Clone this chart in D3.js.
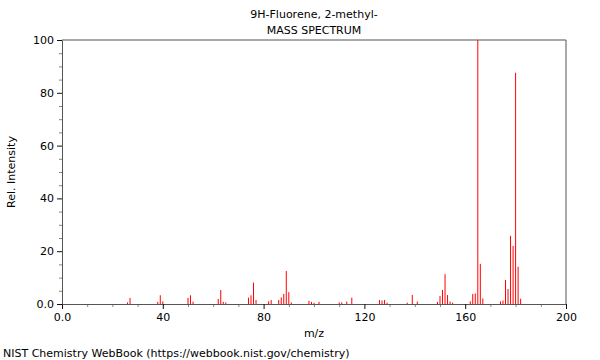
<!DOCTYPE html>
<html lang="en">
<head>
<meta charset="UTF-8">
<title>9H-Fluorene, 2-methyl- mass spectrum</title>
<script src="https://d3js.org/d3.v7.min.js"></script>
<style>
  body { margin: 0; background: #fff; }
  text { font-family: "DejaVu Sans", sans-serif; font-size: 11px; fill: #000; }
  .axis path { stroke: #555; }
  .minor line { stroke: #888; }
  .major line { stroke: #111; }
</style>
</head>
<body>
<div id="chart"></div>
<script>
// peaks: m/z and relative intensity (%)
var mz =        [26, 27, 38, 39, 40, 50, 51, 52, 62, 63, 64, 65, 74, 75, 76, 77, 82, 83, 86, 87, 88, 89, 90, 91,
                 98, 99, 100, 102, 110, 111, 113, 115, 126, 127, 128, 129, 137, 139, 141,
                 149, 150, 151, 152, 153, 154, 155, 162, 163, 164, 165, 166, 167,
                 174, 175, 176, 177, 178, 179, 180, 181, 182];
var intensity = [0.6, 2.3, 0.8, 3.3, 1.0, 2.3, 3.3, 0.9, 1.9, 5.3, 0.8, 0.6, 2.4, 3.3, 8.1, 1.5, 1.0, 1.5, 1.5, 2.5, 3.8, 12.5, 4.5, 0.6,
                 1.2, 0.8, 0.5, 0.8, 0.6, 0.6, 0.9, 2.4, 1.5, 1.3, 1.5, 0.5, 0.5, 3.4, 0.9,
                 0.8, 3.0, 5.3, 11.3, 3.4, 0.9, 0.5, 1.0, 3.8, 4.0, 100, 15.2, 2.1,
                 1.0, 1.3, 9.1, 5.7, 25.8, 22.0, 87.6, 14.1, 2.0];

var xMajor = [0, 40, 80, 120, 160, 200];
var xMinor = [10, 20, 30, 50, 60, 70, 90, 100, 110, 130, 140, 150, 170, 180, 190];
var yMajor = [0, 20, 40, 60, 80, 100];
var yMinor = [5, 10, 15, 25, 30, 35, 45, 50, 55, 65, 70, 75, 85, 90, 95];

var width = 600, height = 360;
var margin = {top: 40, right: 34, bottom: 56, left: 62};

var svg = d3.select("#chart").append("svg")
    .attr("width", width)
    .attr("height", height);

var x = d3.scaleLinear().domain([0, 200]).range([margin.left, width - margin.right]);
var y = d3.scaleLinear().domain([0, 100]).range([height - margin.bottom, margin.top]);

function fmt(d) { return d === 0 ? "0.0" : d; }

// minor ticks first, majors over them
svg.append("g")
    .attr("class", "axis minor")
    .attr("transform", "translate(0," + y(0) + ")")
    .call(d3.axisBottom(x).tickValues(xMinor).tickSize(3).tickFormat(""))
    .select(".domain").remove();

svg.append("g")
    .attr("class", "axis minor")
    .attr("transform", "translate(" + x(0) + ",0)")
    .call(d3.axisLeft(y).tickValues(yMinor).tickSize(3).tickFormat(""))
    .select(".domain").remove();

svg.append("g")
    .attr("class", "axis major")
    .attr("transform", "translate(0," + y(0) + ")")
    .call(d3.axisBottom(x).tickValues(xMajor).tickSize(5).tickSizeOuter(0).tickPadding(4).tickFormat(fmt))
    .call(function(g) { g.selectAll("text").attr("font-size", null).attr("font-family", null); });

svg.append("g")
    .attr("class", "axis major")
    .attr("transform", "translate(" + x(0) + ",0)")
    .call(d3.axisLeft(y).tickValues(yMajor).tickSize(5).tickSizeOuter(0).tickPadding(3).tickFormat(fmt))
    .call(function(g) { g.selectAll("text").attr("font-size", null).attr("font-family", null); });

// top and right edges of the frame
svg.append("path")
    .attr("d", "M" + x(0) + "," + y(100) + "H" + x(200) + "V" + y(0))
    .attr("fill", "none")
    .attr("stroke", "#555");

// spectrum lines
svg.append("g")
  .selectAll("line")
  .data(mz)
  .enter().append("line")
    .attr("x1", function(d) { return x(d); })
    .attr("x2", function(d) { return x(d); })
    .attr("y1", y(0))
    .attr("y2", function(d, i) { return y(intensity[i]); })
    .attr("stroke", "#ff0000")
    .attr("stroke-width", 1);

// titles and labels
svg.append("text")
    .attr("x", (x(0) + x(200)) / 2)
    .attr("y", 18)
    .attr("text-anchor", "middle")
    .text("9H-Fluorene, 2-methyl-");

svg.append("text")
    .attr("x", (x(0) + x(200)) / 2)
    .attr("y", 34)
    .attr("text-anchor", "middle")
    .text("MASS SPECTRUM");

svg.append("text")
    .attr("x", (x(0) + x(200)) / 2)
    .attr("y", 337)
    .attr("text-anchor", "middle")
    .text("m/z");

svg.append("text")
    .attr("transform", "translate(15," + ((y(0) + y(100)) / 2) + ") rotate(-90)")
    .attr("text-anchor", "middle")
    .text("Rel. Intensity");

svg.append("text")
    .attr("x", 3)
    .attr("y", 357)
    .text("NIST Chemistry WebBook (https://webbook.nist.gov/chemistry)");
</script>
</body>
</html>
